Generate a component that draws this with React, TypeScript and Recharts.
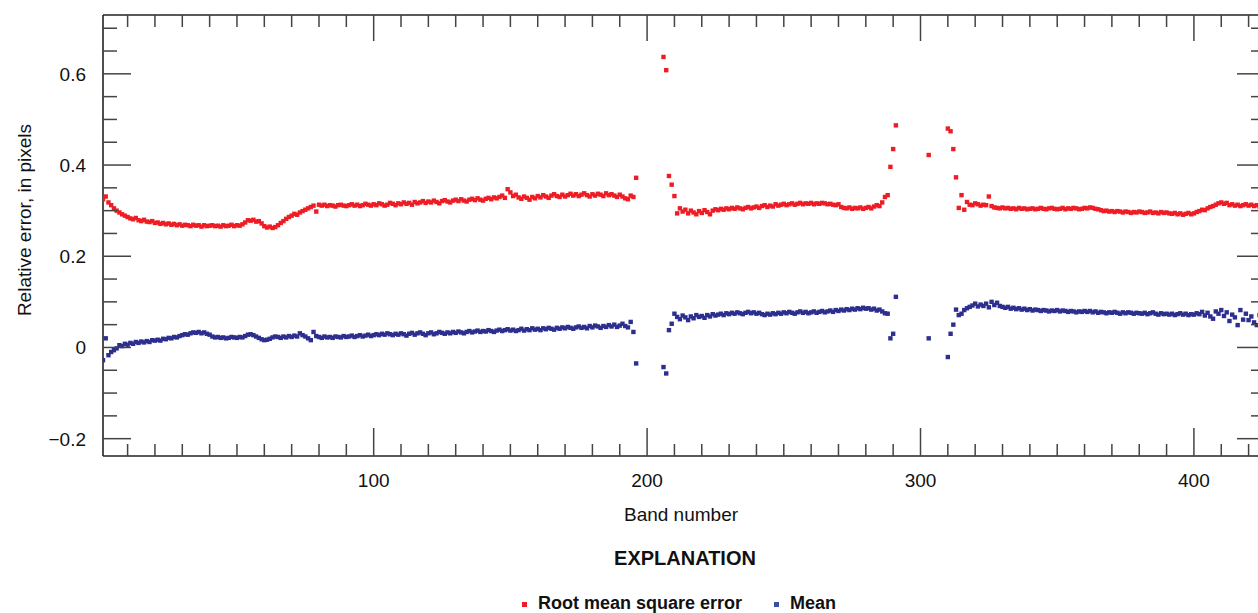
import { ScatterChart, Scatter, XAxis, YAxis } from "recharts"

// Per-band error statistics, band 1 first; null = band not reported
const rmse: (number | null)[] = [
  0.325, 0.331, 0.318, 0.312, 0.305, 0.3, 0.296, 0.292, 0.289, 0.286,
  0.283, 0.281, 0.284, 0.279, 0.277, 0.28, 0.276, 0.275, 0.277, 0.273,
  0.274, 0.271, 0.273, 0.27, 0.272, 0.269, 0.271, 0.268, 0.27, 0.267,
  0.269, 0.268, 0.266, 0.269, 0.267, 0.268, 0.265, 0.268, 0.266, 0.267,
  0.268, 0.266, 0.267, 0.265, 0.268, 0.266, 0.267, 0.269, 0.266, 0.268,
  0.267, 0.27, 0.274, 0.279, 0.278, 0.28, 0.276, 0.277, 0.272, 0.266,
  0.263, 0.265, 0.262, 0.264, 0.268, 0.273, 0.277, 0.282, 0.286, 0.289,
  0.293, 0.291, 0.296, 0.299, 0.302, 0.305, 0.308, 0.311, 0.298, 0.313,
  0.311, 0.313, 0.31, 0.312, 0.311, 0.309, 0.312, 0.313, 0.311, 0.31,
  0.312, 0.314, 0.311, 0.313, 0.31, 0.312, 0.315, 0.313, 0.311, 0.314,
  0.312, 0.316, 0.314, 0.311, 0.313, 0.317, 0.315, 0.312, 0.316, 0.314,
  0.318, 0.315, 0.317, 0.313, 0.319, 0.316, 0.318, 0.321, 0.317, 0.32,
  0.318, 0.322, 0.319, 0.316, 0.321, 0.323, 0.32, 0.318, 0.322, 0.324,
  0.321, 0.325, 0.322, 0.32, 0.324, 0.326, 0.323, 0.327, 0.324, 0.322,
  0.326, 0.328, 0.325, 0.329, 0.327, 0.33, 0.333, 0.328, 0.347, 0.34,
  0.332, 0.335, 0.329, 0.326, 0.331, 0.328, 0.324, 0.33, 0.327, 0.332,
  0.329, 0.334, 0.331, 0.328, 0.333, 0.336, 0.332, 0.33, 0.335, 0.331,
  0.334, 0.337, 0.333, 0.336, 0.332, 0.335, 0.338, 0.334, 0.331, 0.336,
  0.333, 0.337, 0.335, 0.332, 0.338, 0.334, 0.336, 0.333, 0.33, 0.335,
  0.331, 0.327, 0.325, 0.333, 0.33, 0.372, null, null, null, null,
  null, null, null, null, null, 0.637, 0.608, 0.376, 0.357, 0.332,
  0.294, 0.305, 0.298, 0.302, 0.294, 0.3, 0.296, 0.292, 0.299, 0.295,
  0.301, 0.297, 0.292, 0.3, 0.303, 0.301, 0.304, 0.302, 0.305, 0.303,
  0.306, 0.304, 0.307, 0.305, 0.303, 0.306, 0.308, 0.305, 0.307, 0.309,
  0.306, 0.31, 0.312, 0.308, 0.311, 0.309, 0.314, 0.311, 0.313, 0.315,
  0.312, 0.314, 0.316, 0.313, 0.315, 0.317, 0.314, 0.316, 0.315, 0.317,
  0.314, 0.316, 0.315, 0.317, 0.316, 0.314, 0.315, 0.313, 0.312, 0.314,
  0.308, 0.306, 0.305, 0.307, 0.304, 0.306, 0.305, 0.307, 0.304, 0.306,
  0.308, 0.305, 0.309, 0.312, 0.31, 0.318, 0.33, 0.334, 0.396, 0.435,
  0.487, null, null, null, null, null, null, null, null, null,
  null, null, 0.422, null, null, null, null, null, null, 0.48,
  0.474, 0.435, 0.373, 0.306, 0.334, 0.302, 0.319, 0.313, 0.312, 0.316,
  0.314, 0.311, 0.313, 0.312, 0.331, 0.31, 0.307, 0.306, 0.305, 0.307,
  0.305, 0.306, 0.304, 0.305, 0.303, 0.306, 0.304, 0.305, 0.303, 0.304,
  0.305, 0.303, 0.304, 0.306, 0.304, 0.303, 0.305, 0.306, 0.304, 0.303,
  0.304, 0.306, 0.303, 0.305, 0.304, 0.306, 0.305, 0.303, 0.304, 0.306,
  0.305, 0.307, 0.306, 0.304, 0.303, 0.301, 0.299, 0.3, 0.298, 0.299,
  0.297, 0.299, 0.298, 0.296, 0.298, 0.297, 0.295, 0.297, 0.296, 0.298,
  0.297, 0.295, 0.296, 0.298, 0.295, 0.296, 0.294, 0.297, 0.295, 0.296,
  0.294, 0.293, 0.295, 0.292, 0.294, 0.291, 0.293, 0.295, 0.292, 0.294,
  0.297, 0.299, 0.302, 0.301, 0.305, 0.308, 0.31, 0.313, 0.316, 0.318,
  0.315, 0.317, 0.312, 0.314, 0.311, 0.313, 0.31, 0.312, 0.314, 0.311,
  0.313, 0.31, 0.312, 0.309, 0.311,
]

const meanErr: (number | null)[] = [
  -0.028, 0.02, -0.017, -0.01, -0.006, -0.002, 0.005, 0.003, 0.008, 0.006,
  0.01, 0.008, 0.012, 0.01, 0.013, 0.011, 0.014, 0.012, 0.016, 0.015,
  0.017, 0.015, 0.019, 0.018, 0.021, 0.02, 0.023, 0.022, 0.025, 0.027,
  0.029, 0.028, 0.031, 0.033, 0.032, 0.034, 0.031, 0.033, 0.03, 0.028,
  0.024, 0.022, 0.023, 0.021, 0.022, 0.02, 0.021, 0.023, 0.022, 0.021,
  0.023, 0.022, 0.025, 0.028, 0.029, 0.027, 0.024, 0.021, 0.018, 0.016,
  0.017, 0.019, 0.022, 0.024, 0.023, 0.021, 0.024, 0.022, 0.025, 0.023,
  0.026, 0.024, 0.031, 0.027, 0.024, 0.02, 0.016, 0.034, 0.025, 0.023,
  0.021, 0.024, 0.022, 0.023, 0.021, 0.024, 0.023, 0.022, 0.025, 0.023,
  0.024, 0.026, 0.023, 0.025, 0.027, 0.024, 0.026, 0.028, 0.025, 0.027,
  0.029, 0.027, 0.03, 0.028, 0.031, 0.029, 0.027, 0.03, 0.028, 0.031,
  0.029, 0.026, 0.03, 0.032, 0.028, 0.031, 0.033, 0.03, 0.027, 0.031,
  0.033, 0.029, 0.031, 0.034, 0.032, 0.03, 0.033, 0.031, 0.034, 0.032,
  0.035, 0.033, 0.031, 0.034, 0.036, 0.033, 0.035, 0.037, 0.034, 0.036,
  0.035, 0.038, 0.036, 0.034, 0.037, 0.039, 0.036, 0.038, 0.04, 0.037,
  0.039, 0.036, 0.038, 0.041, 0.037, 0.04, 0.038, 0.042, 0.039, 0.041,
  0.038, 0.042, 0.04, 0.043, 0.041, 0.039, 0.043, 0.041, 0.044, 0.042,
  0.045, 0.043, 0.041, 0.044, 0.046, 0.043, 0.045, 0.042, 0.047, 0.044,
  0.048, 0.046, 0.043, 0.047, 0.045, 0.049, 0.046, 0.05, 0.045, 0.048,
  0.052, 0.047, 0.044, 0.056, 0.034, -0.035, null, null, null, null,
  null, null, null, null, null, -0.043, -0.057, 0.038, 0.052, 0.074,
  0.067, 0.062, 0.07, 0.066, 0.06, 0.068, 0.064, 0.071, 0.067, 0.069,
  0.065, 0.071, 0.068, 0.073, 0.07, 0.072, 0.074, 0.071, 0.075, 0.073,
  0.076, 0.074, 0.077, 0.075, 0.073, 0.076, 0.078, 0.075, 0.077, 0.074,
  0.076, 0.073, 0.071, 0.074, 0.072, 0.075, 0.073, 0.076, 0.074, 0.077,
  0.075, 0.078, 0.076, 0.074, 0.077, 0.079, 0.076, 0.078, 0.075, 0.077,
  0.079, 0.076, 0.078, 0.08, 0.077, 0.079, 0.081, 0.078, 0.082, 0.08,
  0.083, 0.081, 0.084, 0.082, 0.085, 0.083, 0.086, 0.084, 0.087, 0.085,
  0.086, 0.083, 0.085, 0.081, 0.083, 0.079, 0.075, 0.074, 0.02, 0.03,
  0.111, null, null, null, null, null, null, null, null, null,
  null, null, 0.02, null, null, null, null, null, null, -0.021,
  0.03, 0.05, 0.083, 0.071, 0.074, 0.082, 0.086, 0.089, 0.092, 0.096,
  0.09, 0.094, 0.091, 0.096, 0.088, 0.1, 0.093, 0.098, 0.091, 0.089,
  0.087, 0.089, 0.085, 0.087, 0.084, 0.086, 0.083, 0.085, 0.082, 0.084,
  0.081, 0.083, 0.082, 0.08, 0.082, 0.081, 0.079, 0.081, 0.08, 0.082,
  0.079, 0.081, 0.08, 0.078, 0.08, 0.079, 0.077, 0.079, 0.078, 0.08,
  0.078, 0.08, 0.077, 0.079, 0.076, 0.078, 0.077, 0.075, 0.077, 0.076,
  0.078, 0.076, 0.074, 0.077, 0.075, 0.077, 0.076, 0.074, 0.076, 0.075,
  0.074, 0.076, 0.073, 0.075, 0.077, 0.074, 0.072, 0.075, 0.073, 0.074,
  0.072, 0.074, 0.071, 0.073, 0.075, 0.072, 0.074, 0.071, 0.073, 0.072,
  0.075, 0.073, 0.078, 0.07, 0.076, 0.068, 0.063, 0.079, 0.074, 0.082,
  0.069, 0.077, 0.058, 0.072, 0.066, 0.049, 0.082, 0.061, 0.074, 0.06,
  0.068, 0.055, 0.049, 0.071, 0.058,
]

const xMajor = [100, 200, 300, 400]
const xTicks = Array.from({ length: 42 }, (_, i) => (i + 1) * 10)
const yTicks = [
  -0.2, -0.15, -0.1, -0.05, 0, 0.05, 0.1, 0.15, 0.2, 0.25,
  0.3, 0.35, 0.4, 0.45, 0.5, 0.55, 0.6, 0.65, 0.7,
]
const yLabels = [-0.2, 0, 0.2, 0.4, 0.6]

const RED = "#ee1d25"
const BLUE = "#2d2f8f"
const FONT = "'Liberation Sans', Arial, Helvetica, sans-serif"
const TICK = "#444"
const FRAME = "#222"

const toPoints = (vals: (number | null)[]) =>
  vals
    .map((v, i) => ({ band: i + 1, value: v }))
    .filter((p) => p.value !== null)

const rmsePoints = toPoints(rmse)
const meanPoints = toPoints(meanErr)

const isMajorY = (v: number) => Math.abs(v * 5 - Math.round(v * 5)) < 1e-6
const fmtY = (v: number) => (v < 0 ? "\u2212" + Math.abs(v) : String(v))

const square = (color: string) => (props: any) => {
  const { cx, cy } = props
  if (cx == null || cy == null) return <g />
  return <rect x={cx - 2.2} y={cy - 2.2} width={4.4} height={4.4} fill={color} />
}

const BottomTick = ({ x, y, payload }: any) => {
  const major = xMajor.includes(payload.value)
  return (
    <g>
      <line x1={x} x2={x} y1={y} y2={y - (major ? 28 : 12)} stroke={TICK} strokeWidth={1.5} />
      {major && (
        <text x={x} y={y + 31} textAnchor="middle" fontSize={19} fontFamily={FONT} fill="#111">
          {payload.value}
        </text>
      )}
    </g>
  )
}

const TopTick = ({ x, y, payload }: any) => {
  const major = xMajor.includes(payload.value)
  return <line x1={x} x2={x} y1={y} y2={y + (major ? 26 : 12)} stroke={TICK} strokeWidth={1.5} />
}

const LeftTick = ({ x, y, payload }: any) => {
  const v = payload.value
  const major = isMajorY(v)
  const labelled = yLabels.some((l) => Math.abs(l - v) < 1e-6)
  return (
    <g>
      <line x1={x} x2={x + (major ? 28 : 14)} y1={y} y2={y} stroke={TICK} strokeWidth={1.5} />
      {labelled && (
        <text x={x - 17} y={y + 7} textAnchor="end" fontSize={19} fontFamily={FONT} fill="#111">
          {fmtY(v)}
        </text>
      )}
    </g>
  )
}

const RightTick = ({ x, y, payload }: any) => {
  const major = isMajorY(payload.value)
  return <line x1={x} x2={x - (major ? 28 : 14)} y1={y} y2={y} stroke={TICK} strokeWidth={1.5} />
}

const xDomain = [1, 426]
const yDomain = [-0.238, 0.729]

export default function App() {
  return (
    <div
      style={{
        position: "absolute",
        left: 0,
        top: 0,
        width: 1258,
        height: 613,
        overflow: "hidden",
        background: "#fff",
        fontFamily: FONT,
        color: "#111",
      }}
    >
      {/* axis bands are 1px wide so Recharts still draws them */}
      <ScatterChart
        width={1300}
        height={613}
        margin={{ top: 14, right: 34, bottom: 156, left: 102 }}
      >
        <XAxis
          type="number"
          dataKey="band"
          domain={xDomain}
          allowDataOverflow
          ticks={xTicks}
          interval={0}
          height={1}
          tickSize={0}
          tickMargin={0}
          tick={BottomTick}
          axisLine={{ stroke: FRAME, strokeWidth: 1.6 }}
        />
        <XAxis
          xAxisId="top"
          orientation="top"
          type="number"
          dataKey="band"
          domain={xDomain}
          allowDataOverflow
          ticks={xTicks}
          interval={0}
          height={1}
          tickSize={0}
          tickMargin={0}
          tick={TopTick}
          axisLine={{ stroke: FRAME, strokeWidth: 1.6 }}
        />
        <YAxis
          type="number"
          dataKey="value"
          domain={yDomain}
          allowDataOverflow
          ticks={yTicks}
          interval={0}
          width={1}
          tickSize={0}
          tickMargin={0}
          tick={LeftTick}
          axisLine={{ stroke: FRAME, strokeWidth: 1.6 }}
        />
        <YAxis
          yAxisId="right"
          orientation="right"
          type="number"
          dataKey="value"
          domain={yDomain}
          allowDataOverflow
          ticks={yTicks}
          interval={0}
          width={1}
          tickSize={0}
          tickMargin={0}
          tick={RightTick}
          axisLine={{ stroke: FRAME, strokeWidth: 1.6 }}
        />
        <Scatter
          name="Root mean square error"
          data={rmsePoints}
          fill={RED}
          shape={square(RED)}
          isAnimationActive={false}
        />
        <Scatter
          name="Mean"
          data={meanPoints}
          fill={BLUE}
          shape={square(BLUE)}
          isAnimationActive={false}
        />
      </ScatterChart>

      {/* axis titles */}
      <div
        style={{
          position: "absolute",
          left: 25,
          top: 220,
          transform: "translate(-50%, -50%) rotate(-90deg)",
          whiteSpace: "nowrap",
          fontSize: 19,
        }}
      >
        Relative error, in pixels
      </div>
      <div
        style={{
          position: "absolute",
          left: 681,
          top: 504,
          transform: "translateX(-50%)",
          whiteSpace: "nowrap",
          fontSize: 19,
        }}
      >
        Band number
      </div>

      {/* explanation block */}
      <div
        style={{
          position: "absolute",
          left: 685,
          top: 547,
          transform: "translateX(-50%)",
          whiteSpace: "nowrap",
          fontSize: 20,
          fontWeight: 700,
        }}
      >
        EXPLANATION
      </div>
      {[
        { name: "Root mean square error", color: RED, left: 522 },
        { name: "Mean", color: "#3a4ea3", left: 774 },
      ].map((item) => (
        <div
          key={item.name}
          style={{
            position: "absolute",
            left: item.left,
            top: 593,
            display: "flex",
            alignItems: "center",
            whiteSpace: "nowrap",
            fontSize: 18,
            fontWeight: 700,
          }}
        >
          <span
            style={{ width: 5, height: 5, background: item.color, marginRight: 11, marginTop: 1 }}
          />
          {item.name}
        </div>
      ))}
    </div>
  )
}
